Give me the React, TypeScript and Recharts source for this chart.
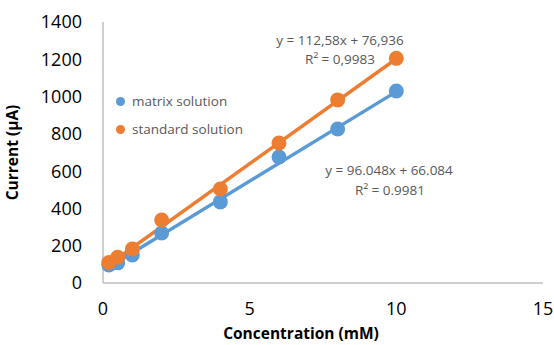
import React from "react";
import { ComposedChart, Scatter, Line, XAxis, YAxis, Label } from "recharts";

const concentrations = [0.2, 0.5, 1, 2, 4, 6, 8, 10];
const matrixCurrent = [97, 108, 150, 268, 435, 676, 826, 1030];
const standardCurrent = [110, 138, 182, 338, 504, 751, 982, 1205];
const xTicks = [0, 5, 10, 15];
const yTicks = [0, 200, 400, 600, 800, 1000, 1200, 1400];
const seriesNames = ["matrix solution", "standard solution"];

const matrixFit = { slope: 96.048, intercept: 66.084 };
const standardFit = { slope: 112.58, intercept: 76.936 };
const trendRange = [concentrations[0], concentrations[concentrations.length - 1]];

const matrixData = concentrations.map((x, i) => ({ x, y: matrixCurrent[i] }));
const standardData = concentrations.map((x, i) => ({ x, y: standardCurrent[i] }));
const matrixTrend = trendRange.map((x) => ({ x, t: matrixFit.slope * x + matrixFit.intercept }));
const standardTrend = trendRange.map((x) => ({ x, t: standardFit.slope * x + standardFit.intercept }));

const BLUE = "#5B9BD5";
const ORANGE = "#ED7D31";
const FONT = "'Open Sans', sans-serif";

const dot = (color: string) => (props: any) =>
  <circle cx={props.cx} cy={props.cy} r={7.5} fill={color} />;

const eqStyle: React.CSSProperties = {
  position: "absolute",
  fontFamily: FONT,
  fontSize: 13.5,
  color: "#595959",
  transform: "translate(-50%, -50%)",
  whiteSpace: "nowrap",
};

export default function App() {
  const legendItems = [
    { name: seriesNames[0], color: BLUE },
    { name: seriesNames[1], color: ORANGE },
  ];
  return (
    <div style={{ position: "absolute", left: 0, top: 0, width: 554, height: 345, background: "#fff" }}>
      <ComposedChart width={554} height={345} margin={{ top: 22, right: 11, bottom: 0, left: 0 }}>
        <XAxis
          type="number"
          dataKey="x"
          domain={[0, 15]}
          ticks={xTicks}
          axisLine={{ stroke: "#BFBFBF", strokeWidth: 1.5 }}
          tickLine={false}
          tickSize={0}
          tickMargin={19}
          height={62}
          tick={{ fill: "#000", fontSize: 18, fontFamily: FONT }}
        >
          <Label
            value="Concentration (mM)"
            position="insideBottom"
            offset={6}
            dx={-22}
            style={{ fill: "#000", fontSize: 15.5, fontWeight: 700, fontFamily: FONT }}
          />
        </XAxis>
        <YAxis
          type="number"
          domain={[0, 1400]}
          ticks={yTicks}
          axisLine={{ stroke: "#BFBFBF", strokeWidth: 1.5 }}
          tickLine={false}
          tickSize={0}
          tickMargin={21}
          width={103}
          tick={{ fill: "#000", fontSize: 18, fontFamily: FONT }}
        >
          <Label
            value="Current  (µA)"
            angle={-90}
            position="insideLeft"
            offset={12}
            style={{ fill: "#000", fontSize: 15.5, fontWeight: 700, fontFamily: FONT, textAnchor: "middle" }}
          />
        </YAxis>
        <Scatter name={seriesNames[0]} data={matrixData} dataKey="y" fill={BLUE} shape={dot(BLUE)} isAnimationActive={false} />
        <Scatter name={seriesNames[1]} data={standardData} dataKey="y" fill={ORANGE} shape={dot(ORANGE)} isAnimationActive={false} />
        <Line data={matrixTrend} dataKey="t" stroke={BLUE} strokeWidth={3.5} dot={false} legendType="none" isAnimationActive={false} />
        <Line data={standardTrend} dataKey="t" stroke={ORANGE} strokeWidth={3.5} dot={false} legendType="none" isAnimationActive={false} />
      </ComposedChart>
      <div style={{ position: "absolute", left: 116, top: 87, fontFamily: FONT, fontSize: 13.5, color: "#595959" }}>
        {legendItems.map((it) => (
          <div key={it.name} style={{ display: "flex", alignItems: "center", height: 28 }}>
            <span style={{ width: 9, height: 9, borderRadius: 5, background: it.color, marginRight: 7 }} />
            {it.name}
          </div>
        ))}
      </div>
      <div style={{ ...eqStyle, left: 340, top: 40 }}>y = 112,58x + 76,936</div>
      <div style={{ ...eqStyle, left: 340, top: 59 }}>R² = 0,9983</div>
      <div style={{ ...eqStyle, left: 389, top: 170 }}>y = 96.048x + 66.084</div>
      <div style={{ ...eqStyle, left: 390, top: 190 }}>R² = 0.9981</div>
    </div>
  );
}
